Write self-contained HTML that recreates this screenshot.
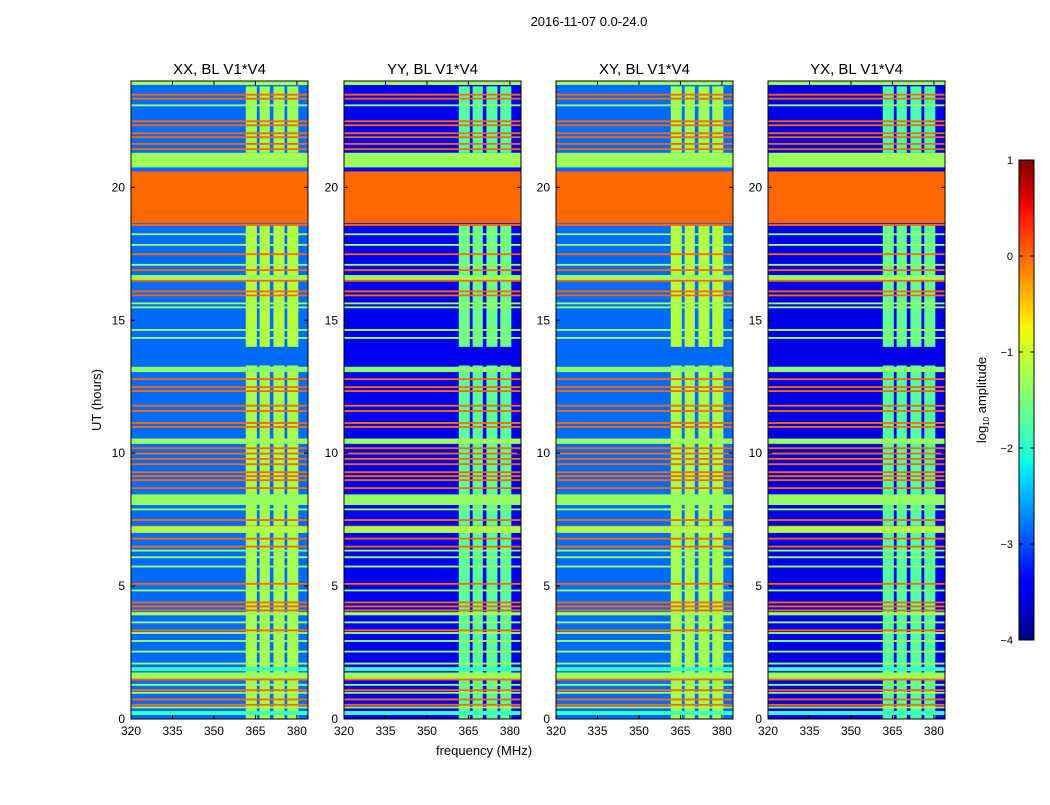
<!DOCTYPE html>
<html><head><meta charset="utf-8"><style>
body{margin:0;background:#fff;}
svg text{font-family:"Liberation Sans",sans-serif;}
</style></head><body>
<svg id="fig" width="1050" height="800" xmlns="http://www.w3.org/2000/svg">
<defs><linearGradient id="jet" x1="0" y1="1" x2="0" y2="0"></linearGradient></defs>
<rect width="1050" height="800" fill="#fff"/>
<text x="589" y="26" font-size="13" text-anchor="middle">2016-11-07 0.0-24.0</text>
<text x="484" y="755" font-size="13" text-anchor="middle">frequency (MHz)</text>
<text x="101" y="400" font-size="13" text-anchor="middle" transform="rotate(-90 101 400)">UT (hours)</text>
<g id="panels"></g>
<g id="cbar"></g>
</svg>
<script>
// ---- data ----
const panelTitles = ["XX, BL V1*V4","YY, BL V1*V4","XY, BL V1*V4","YX, BL V1*V4"];
const panelBackground = [-2.85,-3.5,-2.85,-3.55];
const panelColumnOffset = [0,-0.45,0,-0.5];
const xTicks = [320,335,350,365,380];
const yTicks = [0,5,10,15,20];
const cbarTicks = [-4,-3,-2,-1,0,1];
// column (RFI channel) bands in MHz
const columnStart = [361.5,366.5,371.5,376.5];
const columnEnd = [365.5,370.2,375.5,380.5];
// active column time segments: start hour, end hour, log amplitude
const segStart = [0.0,14.0,21.3];
const segEnd = [13.3,18.6,23.8];
const segValue = [-1.25,-1.15,-1.3];
// horizontal bands: start hour, end hour, log amplitude
const bandStart = [23.85,23.3,23.45,23.05,22.45,22.3,22.0,21.85,21.6,21.4,20.75,18.7,18.65,18.55,18.2,17.8,17.45,17.05,16.85,16.5,16.45,16.05,15.9,15.6,15.45,14.6,14.3,13.05,12.75,12.45,12.3,11.75,11.55,11.1,10.95,10.35,10.15,9.95,9.75,9.55,9.25,9.1,8.95,8.65,8.05,7.85,7.45,7.2,7.0,6.75,6.45,6.3,6.05,5.7,5.05,4.8,4.35,4.2,4.05,3.9,3.6,3.3,3.2,2.9,2.5,2.05,1.8,1.5,1.45,1.25,1.05,0.95,0.7,0.5,0.4,0.15];
const bandEnd =   [24.0,23.37,23.52,23.12,22.52,22.37,22.07,21.92,21.67,21.47,21.3,20.6,18.72,18.62,18.27,17.87,17.52,17.12,16.92,16.7,16.52,16.12,15.97,15.67,15.52,14.67,14.37,13.25,12.82,12.52,12.37,11.82,11.62,11.17,11.02,10.55,10.22,10.02,9.82,9.62,9.32,9.17,9.02,8.72,8.45,7.92,7.52,7.27,7.25,6.82,6.52,6.37,6.12,5.77,5.12,4.87,4.42,4.27,4.12,4.02,3.67,3.37,3.27,2.97,2.57,2.12,1.95,1.75,1.52,1.32,1.12,1.02,0.77,0.57,0.47,0.3];
const bandValue = [-1.3,0.0,0.0,-1.3,0.0,0.0,0.0,0.0,0.0,0.0,-1.3,0.0,0.0,0.0,-1.3,-1.3,0.0,-1.3,0.0,-1.3,0.0,0.0,0.0,-1.3,-1.3,-1.3,-1.3,-1.4,0.0,0.0,0.0,0.0,0.0,0.0,0.0,-1.3,0.0,0.0,0.0,0.0,0.0,0.0,0.0,0.0,-1.35,-1.3,0.0,0.0,-1.2,0.0,0.0,-1.3,-1.3,-1.3,0.0,-1.3,0.0,0.0,0.0,-1.3,-1.3,0.0,-1.3,-1.3,-1.3,-1.3,-1.9,-1.3,0.0,-1.3,0.0,-1.3,0.0,0.0,-1.3,-1.9];

// ---- helpers (matplotlib jet) ----
const jetR=[[0,0],[0.35,0],[0.66,1],[0.89,1],[1,0.5]];
const jetG=[[0,0],[0.125,0],[0.375,1],[0.64,1],[0.91,0],[1,0]];
const jetB=[[0,0.5],[0.11,1],[0.34,1],[0.65,0],[1,0]];
function seg(pts,t){for(let i=1;i<pts.length;i++){if(t<=pts[i][0]){const a=pts[i-1],b=pts[i];return a[1]+(b[1]-a[1])*(t-a[0])/(b[0]-a[0]);}}return pts[pts.length-1][1];}
function jet(v){
  let t=(v+4)/5; t=Math.max(0,Math.min(1,t));
  const c=x=>Math.round(255*Math.max(0,Math.min(1,x)));
  return `rgb(${c(seg(jetR,t))},${c(seg(jetG,t))},${c(seg(jetB,t))})`;
}
const NS="http://www.w3.org/2000/svg";
function mk(tag,attrs,parent){const e=document.createElementNS(NS,tag);for(const k in attrs)e.setAttribute(k,attrs[k]);parent.appendChild(e);return e;}
const panelX=[131,344,556,768], pw=177, plotTop=81, plotBottom=719;
const xMin=320,xMax=384,yMin=0,yMax=24;
const panelsG=document.getElementById('panels');
const nBands=Math.min(bandStart.length,bandEnd.length,bandValue.length);
panelTitles.forEach((title,p)=>{
  const x0=panelX[p];
  const xs=f=>x0+(f-xMin)/(xMax-xMin)*pw;
  const ys=h=>plotBottom-(h-yMin)/(yMax-yMin)*(plotBottom-plotTop);
  const g=mk('g',{},panelsG);
  
  
  const bg=mk('rect',{x:x0,y:plotTop,width:pw,height:plotBottom-plotTop,fill:jet(panelBackground[p])},g);
  
  
  for(let s=0;s<segStart.length;s++){
    for(let c=0;c<columnStart.length;c++){
      const r=mk('rect',{x:xs(columnStart[c]),y:ys(segEnd[s]),width:xs(columnEnd[c])-xs(columnStart[c]),height:ys(segStart[s])-ys(segEnd[s]),fill:jet(segValue[s]+panelColumnOffset[p])},g);
      
      
    }
  }
  for(let i=0;i<nBands;i++){
    const r=mk('rect',{x:x0,y:ys(bandEnd[i]),width:pw,height:Math.max(1.2,ys(bandStart[i])-ys(bandEnd[i])),fill:jet(bandValue[i])},g);
    
    
  }
  mk('rect',{x:x0,y:plotTop,width:pw,height:plotBottom-plotTop,fill:'none',stroke:'#000','stroke-width':1},g);
  const t=mk('text',{x:x0+pw/2,y:74,'font-size':15,'text-anchor':'middle'},g);
  t.textContent=title;
  
  
  xTicks.forEach(v=>{
    const X=xs(v);
    mk('line',{x1:X,x2:X,y1:plotBottom,y2:plotBottom-4,stroke:'#000'},g);
    mk('line',{x1:X,x2:X,y1:plotTop,y2:plotTop+4,stroke:'#000'},g);
    const l=mk('text',{x:X,y:plotBottom+16,'font-size':12,'text-anchor':'middle'},g);
    l.textContent=v;
    
    
  });
  yTicks.forEach(v=>{
    const Y=ys(v);
    mk('line',{x1:x0,x2:x0+4,y1:Y,y2:Y,stroke:'#000'},g);
    mk('line',{x1:x0+pw,x2:x0+pw-4,y1:Y,y2:Y,stroke:'#000'},g);
    const l=mk('text',{x:x0-6,y:Y+4,'font-size':12,'text-anchor':'end'},g);
    l.textContent=v;
    
    
  });
});
// colorbar
const grad=document.getElementById('jet');
for(let i=0;i<=40;i++){const v=-4+5*i/40;mk('stop',{offset:(i/40),'stop-color':jet(v)},grad);}
const cb=document.getElementById('cbar');
const cbx=1019,cbw=15,cbTop=160,cbBot=640;
const cs=v=>cbBot-(v+4)/5*(cbBot-cbTop);
const cr=mk('rect',{x:cbx,y:cbTop,width:cbw,height:cbBot-cbTop,fill:'url(#jet)',stroke:'#000'},cb);


cbarTicks.forEach(v=>{
  const Y=cs(v);
  mk('line',{x1:cbx,x2:cbx+4,y1:Y,y2:Y,stroke:'#000'},cb);
  mk('line',{x1:cbx+cbw,x2:cbx+cbw-4,y1:Y,y2:Y,stroke:'#000'},cb);
  const l=mk('text',{x:cbx-6,y:Y+4,'font-size':11,'text-anchor':'end'},cb);
  l.textContent=(v<0?'\u2212'+(-v):v);
  
  
});
const ct=mk('text',{x:986,y:400,'font-size':13,'text-anchor':'middle',transform:'rotate(-90 986 400)'},cb);
ct.innerHTML='log<tspan font-size="8" dy="3">10</tspan><tspan dy="-3"> amplitude</tspan>';


</script>
</body></html>
